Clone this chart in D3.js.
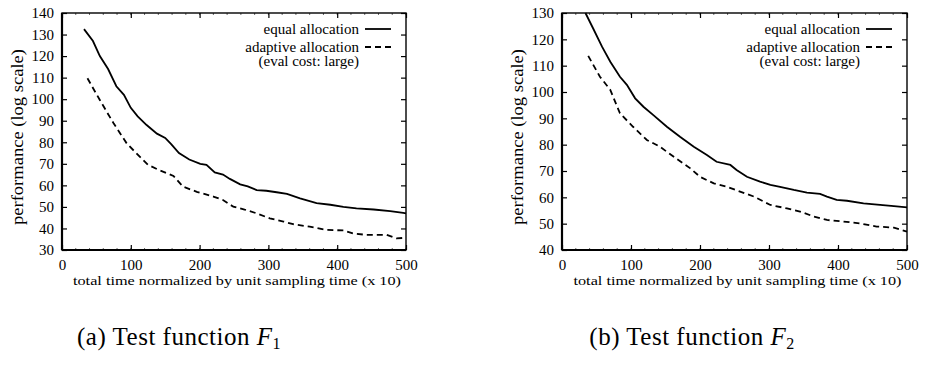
<!DOCTYPE html>
<html>
<head>
<meta charset="utf-8">
<script src="https://cdn.jsdelivr.net/npm/d3@7/dist/d3.min.js"></script>
<style>
  body { margin: 0; background: #fff; }
  svg text { font-family: "Liberation Serif", "Times New Roman", serif; fill: #000; }
</style>
</head>
<body>
<svg id="chart" width="927" height="377"></svg>
<script>
// panel (a): test function F1
var f1Equal = [[32,132.5],[45,127],[55,120],[67,114],[79,106],[90,102],[100,96],[110,92],[123,88],[138,84],[150,82],[159,79],[170,75],[185,72],[201,70],[210,69.5],[222,66],[234,65],[244,63],[259,60.5],[270,59.5],[283,57.8],[297,57.5],[312,56.8],[327,56],[346,54],[370,51.8],[390,51],[409,50],[428,49.3],[453,48.8],[477,48],[496,47.2],[500,47]];
var f1Adaptive = [[37,109.7],[55,99.6],[75,88.8],[94,79.5],[113,73.3],[125,69.5],[142,67],[162,64.4],[176,59.4],[196,57],[220,54.8],[234,53.2],[249,50.1],[264,48.9],[283,47],[302,44.7],[322,43.2],[336,42],[360,40.8],[385,39.3],[409,39.1],[423,37.7],[443,37],[472,37],[486,35.4],[496,35.6]];
// panel (b): test function F2
var f2Equal = [[34,130],[45,124.2],[58,117.2],[70,111.5],[84,105.8],[94,102.7],[106,97.6],[118,94.4],[132,91.3],[152,86.8],[171,83],[191,79.2],[210,76.1],[224,73.5],[244,72.3],[253,70.4],[268,67.8],[287,66],[302,64.7],[316,64],[336,62.8],[355,61.8],[374,61.3],[384,60.3],[398,59],[413,58.7],[437,57.7],[461,57.1],[481,56.7],[500,56.2]];
var f2Adaptive = [[38,113.7],[55,105.8],[70,100.8],[84,91.9],[103,86.8],[123,81.8],[142,79.2],[162,75.4],[186,71],[200,67.8],[220,65.3],[239,64],[258,62.2],[278,60.3],[302,57.1],[326,55.8],[345,54.6],[365,52.7],[384,51.4],[408,50.8],[432,50.1],[456,48.9],[481,48.5],[500,47]];

var xTicks = [0, 100, 200, 300, 400, 500];
var f1YTicks = [30, 40, 50, 60, 70, 80, 90, 100, 110, 120, 130, 140];
var f2YTicks = [40, 50, 60, 70, 80, 90, 100, 110, 120, 130];

var seriesNames = ["equal allocation", "adaptive allocation"];
var legendNote = "(eval cost: large)";
var xTitle = "total time normalized by unit sampling time (x 10)";
var yTitle = "performance (log scale)";

var panels = [
  { left: 62, right: 406, yDomain: [30, 140], yTicks: f1YTicks, equal: f1Equal, adaptive: f1Adaptive, tag: "(a)", sub: "1", capX: 179 },
  { left: 562, right: 907, yDomain: [40, 130], yTicks: f2YTicks, equal: f2Equal, adaptive: f2Adaptive, tag: "(b)", sub: "2", capX: 692 }
];

var svg = d3.select("#chart");
var plotTop = 13, plotBottom = 250;

panels.forEach(function (p) {
  var x = d3.scaleLinear().domain([0, 500]).range([p.left, p.right]);
  var y = d3.scaleLinear().domain(p.yDomain).range([plotBottom, plotTop]);
  var g = svg.append("g");

  // minor ticks on x
  var minor = d3.range(0, 501, 20);
  [plotBottom, plotTop].forEach(function (yy, i) {
    g.selectAll(null).data(minor).enter().append("line")
      .attr("x1", d => x(d)).attr("x2", d => x(d))
      .attr("y1", yy).attr("y2", i === 0 ? yy - 2 : yy + 2)
      .attr("stroke", "#000").attr("stroke-width", 0.6);
  });

  // major ticks, inward on all sides
  g.append("g").attr("transform", "translate(0," + plotBottom + ")")
    .call(d3.axisBottom(x).tickValues(xTicks).tickSize(-5).tickPadding(9).tickFormat(d3.format("d")))
    .call(a => a.select(".domain").remove());
  g.append("g").attr("transform", "translate(0," + plotTop + ")")
    .call(d3.axisTop(x).tickValues(xTicks).tickSize(-5).tickFormat(""))
    .call(a => a.select(".domain").remove());
  g.append("g").attr("transform", "translate(" + p.left + ",0)")
    .call(d3.axisLeft(y).tickValues(p.yTicks).tickSize(-5).tickPadding(8).tickFormat(d3.format("d")))
    .call(a => a.select(".domain").remove());
  g.append("g").attr("transform", "translate(" + p.right + ",0)")
    .call(d3.axisRight(y).tickValues(p.yTicks).tickSize(-5).tickFormat(""))
    .call(a => a.select(".domain").remove());

  g.selectAll(".tick line").attr("stroke", "#000").attr("stroke-width", 1.2);
  g.selectAll(".tick text").attr("font-size", 15).attr("fill", "#000");

  // frame
  g.append("rect").attr("x", p.left).attr("y", plotTop)
    .attr("width", p.right - p.left).attr("height", plotBottom - plotTop)
    .attr("fill", "none").attr("stroke", "#000").attr("stroke-width", 1.4);
  g.append("line").attr("x1", p.left).attr("x2", p.left).attr("y1", plotTop).attr("y2", plotBottom)
    .attr("stroke", "#000").attr("stroke-width", 2.2);
  g.append("line").attr("x1", p.left).attr("x2", p.right).attr("y1", plotBottom).attr("y2", plotBottom)
    .attr("stroke", "#000").attr("stroke-width", 2.2);

  var line = d3.line().x(d => x(d[0])).y(d => y(d[1]));
  g.append("path").datum(p.equal).attr("d", line)
    .attr("fill", "none").attr("stroke", "#000").attr("stroke-width", 1.8);
  g.append("path").datum(p.adaptive).attr("d", line)
    .attr("fill", "none").attr("stroke", "#000").attr("stroke-width", 1.8)
    .attr("stroke-dasharray", "6,4");

  // legend
  var lx = p.right - 47;
  g.append("text").attr("x", lx).attr("y", 34).attr("text-anchor", "end")
    .attr("font-size", 15).text(seriesNames[0]);
  g.append("line").attr("x1", lx + 6).attr("x2", lx + 32).attr("y1", 29).attr("y2", 29)
    .attr("stroke", "#000").attr("stroke-width", 1.8);
  g.append("text").attr("x", lx).attr("y", 52).attr("text-anchor", "end")
    .attr("font-size", 15).text(seriesNames[1]);
  g.append("line").attr("x1", lx + 6).attr("x2", lx + 32).attr("y1", 47).attr("y2", 47)
    .attr("stroke", "#000").attr("stroke-width", 1.8).attr("stroke-dasharray", "6,4");
  g.append("text").attr("x", lx).attr("y", 66).attr("text-anchor", "end")
    .attr("font-size", 15).text(legendNote);

  // axis titles
  var xm = (p.left + p.right) / 2;
  g.append("text").attr("x", xm + 3).attr("y", 285).attr("text-anchor", "middle")
    .attr("font-size", 13).attr("textLength", 328).attr("lengthAdjust", "spacingAndGlyphs")
    .text(xTitle);
  g.append("text").attr("transform", "translate(" + (p.left - 39) + "," + 137 + ") rotate(-90)")
    .attr("text-anchor", "middle").attr("font-size", 16)
    .attr("textLength", 176).attr("lengthAdjust", "spacingAndGlyphs").text(yTitle);

  // caption
  var cap = g.append("text").attr("x", p.capX).attr("y", 345).attr("text-anchor", "middle")
    .attr("font-size", 25).attr("letter-spacing", 0.5);
  cap.append("tspan").text(p.tag + " Test function ");
  cap.append("tspan").attr("font-style", "italic").text("F");
  cap.append("tspan").attr("font-size", 16).attr("dy", 4).text(p.sub);
});
</script>
</body>
</html>
